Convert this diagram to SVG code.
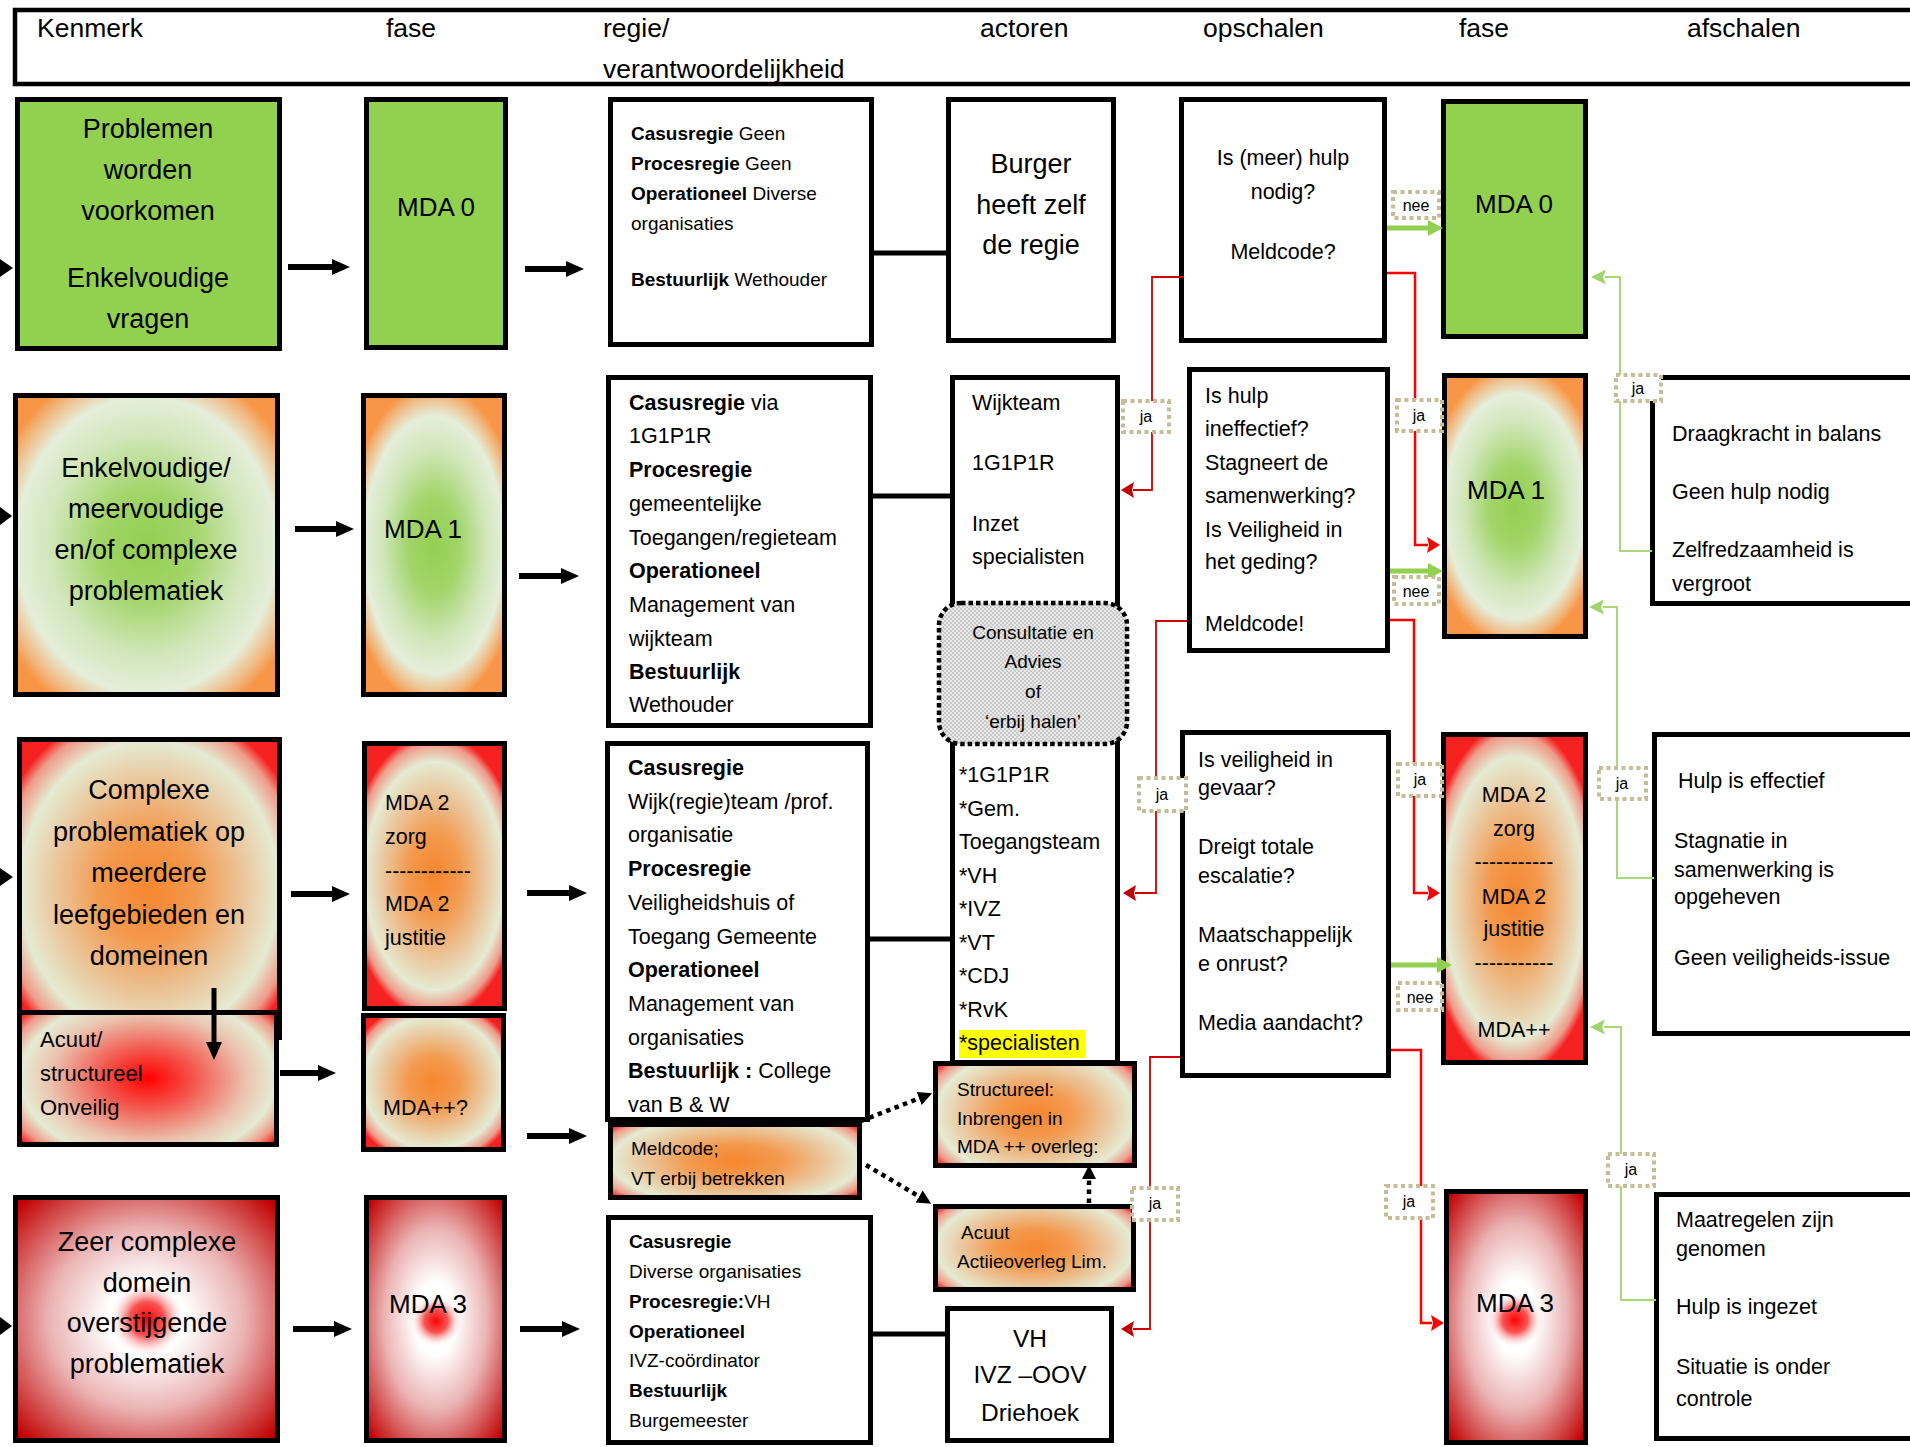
<svg xmlns="http://www.w3.org/2000/svg" width="1910" height="1447" viewBox="0 0 1910 1447">
<style>
.bx{stroke:#000;stroke-width:5}
.w{fill:#fff}
.t{font-family:"Liberation Sans",Arial,sans-serif;fill:#000}
.big{font-size:27px}
.mda{font-size:26px}
.hd{font-size:26.5px}
.m{font-size:21.5px}
.s{font-size:19px}
.c{text-anchor:middle}
.b{font-weight:bold}
.lb{fill:#fff;stroke:#C4BD97;stroke-width:4;stroke-dasharray:4 3.5}
.lt{font-family:"Liberation Sans",Arial,sans-serif;font-size:16px;text-anchor:middle;fill:#000}
.ka{stroke:#000;stroke-width:6;fill:none}
.kl{stroke:#000;stroke-width:5;fill:none}
.rl{stroke:#D00000;stroke-width:1.8;fill:none}
.rr{stroke:#FF0000;stroke-width:2.5;fill:none}
.gn{stroke:#92D050;stroke-width:5;fill:none}
.ga{stroke:#A8D878;stroke-width:2;fill:none}
.dt{stroke:#000;stroke-width:4.5;stroke-dasharray:4.5 4.5;fill:none}
</style>
<defs>
<radialGradient id="gGO" cx="0.5" cy="0.5" r="0.62" gradientTransform="translate(0.5 0.5) scale(1 0.87) translate(-0.5 -0.5)">
<stop offset="0" stop-color="#92D050"/>
<stop offset="0.3" stop-color="#A3D56B"/>
<stop offset="0.6" stop-color="#D2E7BC"/>
<stop offset="0.8" stop-color="#E5EEDA"/>
<stop offset="0.93" stop-color="#F1B77E"/>
<stop offset="1" stop-color="#F79646"/>
</radialGradient>
<radialGradient id="gGOs" cx="0.5" cy="0.5" r="0.62">
<stop offset="0" stop-color="#92D050"/>
<stop offset="0.3" stop-color="#A3D56B"/>
<stop offset="0.6" stop-color="#D2E7BC"/>
<stop offset="0.8" stop-color="#E5EEDA"/>
<stop offset="0.93" stop-color="#F1B77E"/>
<stop offset="1" stop-color="#F79646"/>
</radialGradient>
<radialGradient id="gORt" cx="0.5" cy="0.5" r="0.62" gradientTransform="translate(0.5 0.5) scale(1 0.87) translate(-0.5 -0.5)">
<stop offset="0" stop-color="#F7862F"/>
<stop offset="0.3" stop-color="#F39A4F"/>
<stop offset="0.6" stop-color="#EAC9A0"/>
<stop offset="0.8" stop-color="#E5EBD3"/>
<stop offset="0.93" stop-color="#EF9A88"/>
<stop offset="1" stop-color="#F52020"/>
</radialGradient>
<radialGradient id="gORs" cx="0.5" cy="0.5" r="0.62">
<stop offset="0" stop-color="#F7862F"/>
<stop offset="0.3" stop-color="#F39A4F"/>
<stop offset="0.6" stop-color="#EAC9A0"/>
<stop offset="0.8" stop-color="#E5EBD3"/>
<stop offset="0.93" stop-color="#EF9A88"/>
<stop offset="1" stop-color="#F52020"/>
</radialGradient>
<radialGradient id="gORw" cx="0.5" cy="0.5" r="0.62" gradientTransform="translate(0.5 0.5) scale(1 1.25) translate(-0.5 -0.5)">
<stop offset="0" stop-color="#F7862F"/>
<stop offset="0.3" stop-color="#F39A4F"/>
<stop offset="0.6" stop-color="#EAC9A0"/>
<stop offset="0.8" stop-color="#E5EBD3"/>
<stop offset="0.92" stop-color="#EF9A88"/>
<stop offset="1" stop-color="#F52020"/>
</radialGradient>
<radialGradient id="gRR" cx="0.5" cy="0.5" r="0.62" gradientTransform="translate(0.5 0.5) scale(1 1.25) translate(-0.5 -0.5)">
<stop offset="0" stop-color="#FF0000"/>
<stop offset="0.3" stop-color="#F35A50"/>
<stop offset="0.62" stop-color="#EBC4B0"/>
<stop offset="0.8" stop-color="#E5EBD3"/>
<stop offset="0.92" stop-color="#EF9A88"/>
<stop offset="1" stop-color="#F52020"/>
</radialGradient>
<radialGradient id="gWR" cx="0.5" cy="0.5" r="0.68">
<stop offset="0" stop-color="#FFFFFF"/>
<stop offset="0.22" stop-color="#FFFFFF"/>
<stop offset="0.55" stop-color="#EBB3B3"/>
<stop offset="1" stop-color="#C00000"/>
</radialGradient>
<radialGradient id="gSpot" cx="0.5" cy="0.5" r="0.5">
<stop offset="0" stop-color="#FF0000"/>
<stop offset="0.45" stop-color="#F63535" stop-opacity="0.85"/>
<stop offset="1" stop-color="#FFFFFF" stop-opacity="0"/>
</radialGradient>
<pattern id="hatch" width="4" height="4" patternUnits="userSpaceOnUse">
<rect width="4" height="4" fill="#E8E8E8"/>
<rect width="2" height="2" fill="#C9C9C9"/>
<rect x="2" y="2" width="2" height="2" fill="#C9C9C9"/>
</pattern>
<marker id="ahB" markerUnits="userSpaceOnUse" markerWidth="18" markerHeight="16" viewBox="0 0 18 16" refX="1" refY="8" orient="auto"><path d="M0,0 L18,8 L0,16 z" fill="#000"/></marker>
<marker id="ahD" markerUnits="userSpaceOnUse" markerWidth="14" markerHeight="14" viewBox="0 0 14 14" refX="1" refY="7" orient="auto"><path d="M0,0 L14,7 L0,14 z" fill="#000"/></marker>
<marker id="ahG" markerUnits="userSpaceOnUse" markerWidth="15" markerHeight="16" viewBox="0 0 15 16" refX="1" refY="8" orient="auto"><path d="M0,0 L15,8 L0,16 z" fill="#92D050"/></marker>
<marker id="ahL" markerUnits="userSpaceOnUse" markerWidth="15" markerHeight="15" viewBox="0 0 15 15" refX="1" refY="7.5" orient="auto"><path d="M0,0 L15,7.5 L0,15 L3,7.5 z" fill="#A0D46C"/></marker>
<marker id="ahR" markerUnits="userSpaceOnUse" markerWidth="13" markerHeight="16" viewBox="0 0 13 16" refX="1" refY="8" orient="auto"><path d="M0,0 L13,8 L0,16 L2,8 z" fill="#FF0000"/></marker>
<marker id="ahK" markerUnits="userSpaceOnUse" markerWidth="13" markerHeight="16" viewBox="0 0 13 16" refX="1" refY="8" orient="auto"><path d="M0,0 L13,8 L0,16 L2,8 z" fill="#C00000"/></marker>
</defs>
<rect width="1910" height="1447" fill="#fff"/>

<g id="header">
<rect x="15" y="10" width="1920" height="74" fill="#fff" stroke="#000" stroke-width="4.5"/>
<text class="t hd" x="37" y="37">Kenmerk</text>
<text class="t hd" x="386" y="37">fase</text>
<text class="t hd" x="603" y="37">regie/</text>
<text class="t hd" x="603" y="78">verantwoordelijkheid</text>
<text class="t hd" x="980" y="37">actoren</text>
<text class="t hd" x="1203" y="37">opschalen</text>
<text class="t hd" x="1459" y="37">fase</text>
<text class="t hd" x="1687" y="37">afschalen</text>
</g>

<!-- Row 1 -->
<g id="kenmerk1">
<rect class="bx" x="17.5" y="99.5" width="262" height="249" fill="#92D050"/>
<text class="t big c" x="148" y="138">Problemen</text>
<text class="t big c" x="148" y="179">worden</text>
<text class="t big c" x="148" y="220">voorkomen</text>
<text class="t big c" x="148" y="287">Enkelvoudige</text>
<text class="t big c" x="148" y="328">vragen</text>
</g>
<g id="fase-mda0">
<rect class="bx" x="366.5" y="99.5" width="139" height="248" fill="#92D050"/>
<text class="t mda c" x="436" y="216">MDA 0</text>
</g>
<g id="regie1">
<rect class="bx w" x="610.5" y="99.5" width="261" height="245"/>
<text class="t s" x="631" y="140"><tspan class="b">Casusregie</tspan> Geen</text>
<text class="t s" x="631" y="170"><tspan class="b">Procesregie</tspan> Geen</text>
<text class="t s" x="631" y="200"><tspan class="b">Operationeel</tspan> Diverse</text>
<text class="t s" x="631" y="230">organisaties</text>
<text class="t s" x="631" y="286"><tspan class="b">Bestuurlijk</tspan> Wethouder</text>
</g>
<g id="actor1">
<rect class="bx w" x="948.5" y="99.5" width="165" height="241"/>
<text class="t big c" x="1031" y="173">Burger</text>
<text class="t big c" x="1031" y="214">heeft zelf</text>
<text class="t big c" x="1031" y="254">de regie</text>
</g>
<g id="opschalen1">
<rect class="bx w" x="1181.5" y="99.5" width="203" height="241"/>
<text class="t m c" x="1283" y="165">Is (meer) hulp</text>
<text class="t m c" x="1283" y="199">nodig?</text>
<text class="t m c" x="1283" y="259">Meldcode?</text>
</g>
<g id="fase-r-mda0">
<rect class="bx" x="1443.5" y="101.5" width="142" height="235" fill="#92D050"/>
<text class="t mda c" x="1514" y="213">MDA 0</text>
</g>

<!-- Row 2 -->
<g id="kenmerk2">
<rect class="bx" x="15.5" y="395.5" width="262" height="299" fill="url(#gGOs)"/>
<text class="t big c" x="146" y="477">Enkelvoudige/</text>
<text class="t big c" x="146" y="518">meervoudige</text>
<text class="t big c" x="146" y="559">en/of complexe</text>
<text class="t big c" x="146" y="600">problematiek</text>
</g>
<g id="fase-mda1">
<rect class="bx" x="363.5" y="395.5" width="141" height="299" fill="url(#gGO)"/>
<text class="t mda" x="384" y="538">MDA 1</text>
</g>
<g id="regie2">
<rect class="bx w" x="608.5" y="377.5" width="262" height="348"/>
<text class="t m" x="629" y="410"><tspan class="b">Casusregie</tspan> via</text>
<text class="t m" x="629" y="443">1G1P1R</text>
<text class="t m b" x="629" y="477">Procesregie</text>
<text class="t m" x="629" y="511">gemeentelijke</text>
<text class="t m" x="629" y="545">Toegangen/regieteam</text>
<text class="t m b" x="629" y="578">Operationeel</text>
<text class="t m" x="629" y="612">Management van</text>
<text class="t m" x="629" y="646">wijkteam</text>
<text class="t m b" x="629" y="679">Bestuurlijk</text>
<text class="t m" x="629" y="712">Wethouder</text>
</g>
<g id="actor2">
<rect class="bx w" x="952.5" y="377.5" width="165" height="685"/>
<text class="t m" x="972" y="410">Wijkteam</text>
<text class="t m" x="972" y="470">1G1P1R</text>
<text class="t m" x="972" y="531">Inzet</text>
<text class="t m" x="972" y="564">specialisten</text>
<rect x="959" y="1030" width="126" height="28" fill="#FFFF00"/>
<text class="t m" x="959" y="782">*1G1P1R</text>
<text class="t m" x="959" y="816">*Gem.</text>
<text class="t m" x="959" y="849">Toegangsteam</text>
<text class="t m" x="959" y="883">*VH</text>
<text class="t m" x="959" y="916">*IVZ</text>
<text class="t m" x="959" y="950">*VT</text>
<text class="t m" x="959" y="983">*CDJ</text>
<text class="t m" x="959" y="1017">*RvK</text>
<text class="t m" x="959" y="1050">*specialisten</text>
</g>
<g id="consultatie">
<rect x="939" y="603" width="188" height="141" rx="22" fill="url(#hatch)" stroke="#000" stroke-width="4.5" stroke-dasharray="4.5 3"/>
<text class="t s c" x="1033" y="639">Consultatie en</text>
<text class="t s c" x="1033" y="668">Advies</text>
<text class="t s c" x="1033" y="698">of</text>
<text class="t s c" x="1033" y="728">‘erbij halen’</text>
</g>
<g id="opschalen2">
<rect class="bx w" x="1189.5" y="369.5" width="198" height="281"/>
<text class="t m" x="1205" y="403">Is hulp</text>
<text class="t m" x="1205" y="436">ineffectief?</text>
<text class="t m" x="1205" y="470">Stagneert de</text>
<text class="t m" x="1205" y="503">samenwerking?</text>
<text class="t m" x="1205" y="537">Is Veiligheid in</text>
<text class="t m" x="1205" y="569">het geding?</text>
<text class="t m" x="1205" y="631">Meldcode!</text>
</g>
<g id="fase-r-mda1">
<rect class="bx" x="1444.5" y="375.5" width="141" height="261" fill="url(#gGO)"/>
<text class="t mda" x="1467" y="499">MDA 1</text>
</g>
<g id="afschalen1">
<rect class="bx w" x="1652.5" y="377.5" width="300" height="226"/>
<text class="t m" x="1672" y="441">Draagkracht in balans</text>
<text class="t m" x="1672" y="499">Geen hulp nodig</text>
<text class="t m" x="1672" y="557">Zelfredzaamheid is</text>
<text class="t m" x="1672" y="591">vergroot</text>
</g>

<!-- Row 3 -->
<g id="kenmerk3">
<rect class="bx" x="19.5" y="739.5" width="260" height="298" fill="url(#gORs)"/>
<text class="t big c" x="149" y="799">Complexe</text>
<text class="t big c" x="149" y="841">problematiek op</text>
<text class="t big c" x="149" y="882">meerdere</text>
<text class="t big c" x="149" y="924">leefgebieden en</text>
<text class="t big c" x="149" y="965">domeinen</text>
</g>
<g id="kenmerk3b">
<rect class="bx" x="19.5" y="1012.5" width="257" height="132" fill="url(#gRR)"/>
<text class="t" font-size="22" x="40" y="1047">Acuut/</text>
<text class="t" font-size="22" x="40" y="1081">structureel</text>
<text class="t" font-size="22" x="40" y="1115">Onveilig</text>
</g>
<g id="fase-mda2">
<rect class="bx" x="364.5" y="743.5" width="140" height="265" fill="url(#gORt)"/>
<text class="t m" x="385" y="810">MDA 2</text>
<text class="t m" x="385" y="844">zorg</text>
<text class="t m" x="385" y="878">------------</text>
<text class="t m" x="385" y="911">MDA  2</text>
<text class="t m" x="385" y="945">justitie</text>
</g>
<g id="fase-mdapp">
<rect class="bx" x="363.5" y="1015.5" width="140" height="134" fill="url(#gORs)"/>
<text class="t m" x="383" y="1115">MDA++?</text>
</g>
<g id="regie3">
<rect class="bx w" x="607.5" y="743.5" width="260" height="376"/>
<text class="t m b" x="628" y="775">Casusregie</text>
<text class="t m" x="628" y="809">Wijk(regie)team /prof.</text>
<text class="t m" x="628" y="842">organisatie</text>
<text class="t m b" x="628" y="876">Procesregie</text>
<text class="t m" x="628" y="910">Veiligheidshuis of</text>
<text class="t m" x="628" y="944">Toegang Gemeente</text>
<text class="t m b" x="628" y="977">Operationeel</text>
<text class="t m" x="628" y="1011">Management van</text>
<text class="t m" x="628" y="1045">organisaties</text>
<text class="t m" x="628" y="1078"><tspan class="b">Bestuurlijk :</tspan> College</text>
<text class="t m" x="628" y="1112">van B &amp; W</text>
</g>
<g id="meldcode">
<rect class="bx" x="610.5" y="1124.5" width="249" height="73" fill="url(#gORw)"/>
<text class="t s" x="631" y="1155">Meldcode;</text>
<text class="t s" x="631" y="1185">VT erbij betrekken</text>
</g>
<g id="structureel">
<rect class="bx" x="935.5" y="1063.5" width="199" height="102" fill="url(#gORw)"/>
<text class="t s" x="957" y="1096">Structureel:</text>
<text class="t s" x="957" y="1125">Inbrengen  in</text>
<text class="t s" x="957" y="1153">MDA ++ overleg:</text>
</g>
<g id="acuut-actieoverleg">
<rect class="bx" x="935.5" y="1206.5" width="198" height="83" fill="url(#gORw)"/>
<text class="t s" x="961" y="1239">Acuut</text>
<text class="t s" x="957" y="1268">Actiieoverleg Lim.</text>
</g>
<g id="opschalen3">
<rect class="bx w" x="1182.5" y="732.5" width="206" height="343"/>
<text class="t m" x="1198" y="767">Is veiligheid in</text>
<text class="t m" x="1198" y="795">gevaar?</text>
<text class="t m" x="1198" y="854">Dreigt totale</text>
<text class="t m" x="1198" y="883">escalatie?</text>
<text class="t m" x="1198" y="942">Maatschappelijk</text>
<text class="t m" x="1198" y="971">e onrust?</text>
<text class="t m" x="1198" y="1030">Media aandacht?</text>
</g>
<g id="fase-r-mda2">
<rect class="bx" x="1443.5" y="734.5" width="142" height="328" fill="url(#gORt)"/>
<text class="t m c" x="1514" y="802">MDA 2</text>
<text class="t m c" x="1514" y="836">zorg</text>
<text class="t m c" x="1514" y="869">-----------</text>
<text class="t m c" x="1514" y="904">MDA 2</text>
<text class="t m c" x="1514" y="936">justitie</text>
<text class="t m c" x="1514" y="970">-----------</text>
<text class="t m c" x="1514" y="1037">MDA++</text>
</g>
<g id="afschalen2">
<rect class="bx w" x="1654.5" y="734.5" width="300" height="299"/>
<text class="t m" x="1678" y="788">Hulp is effectief</text>
<text class="t m" x="1674" y="848">Stagnatie in</text>
<text class="t m" x="1674" y="877">samenwerking is</text>
<text class="t m" x="1674" y="904">opgeheven</text>
<text class="t m" x="1674" y="965">Geen veiligheids-issue</text>
</g>

<!-- Row 4 -->
<g id="kenmerk4">
<rect class="bx" x="15.5" y="1197.5" width="262" height="243" fill="url(#gWR)"/>
<circle cx="147" cy="1319" r="38" fill="url(#gSpot)"/>
<text class="t big c" x="147" y="1251">Zeer complexe</text>
<text class="t big c" x="147" y="1292">domein</text>
<text class="t big c" x="147" y="1332">overstijgende</text>
<text class="t big c" x="147" y="1373">problematiek</text>
</g>
<g id="fase-mda3">
<rect class="bx" x="366.5" y="1197.5" width="138" height="243" fill="url(#gWR)"/>
<circle cx="436" cy="1321" r="26" fill="url(#gSpot)"/>
<text class="t mda c" x="428" y="1313">MDA 3</text>
</g>
<g id="regie4">
<rect class="bx w" x="608.5" y="1217.5" width="262" height="225"/>
<text class="t s b" x="629" y="1248">Casusregie</text>
<text class="t s" x="629" y="1278">Diverse organisaties</text>
<text class="t s" x="629" y="1308"><tspan class="b">Procesregie:</tspan>VH</text>
<text class="t s b" x="629" y="1338">Operationeel</text>
<text class="t s" x="629" y="1367"> IVZ-coördinator</text>
<text class="t s b" x="629" y="1397">Bestuurlijk</text>
<text class="t s" x="629" y="1427">Burgemeester</text>
</g>
<g id="actor4">
<rect class="bx w" x="947.5" y="1308.5" width="164" height="132"/>
<text class="t c" font-size="24.5" x="1030" y="1347">VH</text>
<text class="t c" font-size="24.5" x="1030" y="1383">IVZ –OOV</text>
<text class="t c" font-size="24.5" x="1030" y="1421">Driehoek</text>
</g>
<g id="fase-r-mda3">
<rect class="bx" x="1446.5" y="1191.5" width="139" height="251" fill="url(#gWR)"/>
<circle cx="1515" cy="1320" r="28" fill="url(#gSpot)"/>
<text class="t mda c" x="1515" y="1312">MDA 3</text>
</g>
<g id="afschalen3">
<rect class="bx w" x="1656.5" y="1194.5" width="300" height="244"/>
<text class="t m" x="1676" y="1227">Maatregelen zijn</text>
<text class="t m" x="1676" y="1256">genomen</text>
<text class="t m" x="1676" y="1314">Hulp is ingezet</text>
<text class="t m" x="1676" y="1374">Situatie is onder</text>
<text class="t m" x="1676" y="1406">controle</text>
</g>

<g id="connectors">
<!-- left edge arrowheads -->
<path d="M0,259 L13,268 L0,277 z" fill="#000"/>
<path d="M0,507 L12,516 L0,525 z" fill="#000"/>
<path d="M0,868 L13,877 L0,886 z" fill="#000"/>
<path d="M0,1317 L12,1326 L0,1335 z" fill="#000"/>
<!-- black flow arrows -->
<path class="ka" d="M288,267 H333" marker-end="url(#ahB)"/>
<path class="ka" d="M525,269 H567" marker-end="url(#ahB)"/>
<path class="ka" d="M295,529 H337" marker-end="url(#ahB)"/>
<path class="ka" d="M519,576 H562" marker-end="url(#ahB)"/>
<path class="ka" d="M291,894 H333" marker-end="url(#ahB)"/>
<path class="ka" d="M527,893 H570" marker-end="url(#ahB)"/>
<path class="ka" d="M280,1073 H319" marker-end="url(#ahB)"/>
<path class="ka" d="M527,1136 H570" marker-end="url(#ahB)"/>
<path class="ka" d="M293,1329 H335" marker-end="url(#ahB)"/>
<path class="ka" d="M520,1329 H563" marker-end="url(#ahB)"/>
<path class="kl" d="M214,988 V1043" marker-end="url(#ahB)"/>
<!-- regie to actors -->
<path class="kl" d="M872,253 H948"/>
<path class="kl" d="M871,496 H952"/>
<path class="kl" d="M868,939 H952"/>
<path class="kl" d="M871,1334 H947"/>
<!-- dotted arrows -->
<path class="dt" d="M861,1121 L920,1098" marker-end="url(#ahD)"/>
<path class="dt" d="M866,1165 L920,1197" marker-end="url(#ahD)"/>
<path class="dt" d="M1089,1203 V1178" marker-end="url(#ahD)"/>
<!-- red escalation lines -->
<path class="rl" d="M1184,277 H1152 V490 H1133" marker-end="url(#ahK)"/>
<path class="rr" d="M1387,273 H1415 V545 H1428" marker-end="url(#ahR)"/>
<path class="rl" d="M1187,621 H1156 V893 H1135" marker-end="url(#ahK)"/>
<path class="rr" d="M1390,620 H1414 V893 H1428" marker-end="url(#ahR)"/>
<path class="rl" d="M1180,1057 H1150 V1329 H1133" marker-end="url(#ahK)"/>
<path class="rr" d="M1391,1050 H1421 V1323 H1432" marker-end="url(#ahR)"/>
<!-- green nee arrows -->
<path class="gn" d="M1387,228 H1429" marker-end="url(#ahG)"/>
<path class="gn" d="M1390,571 H1429" marker-end="url(#ahG)"/>
<path class="gn" d="M1391,965 H1438" marker-end="url(#ahG)"/>
<!-- green afschalen lines -->
<path class="ga" d="M1652,551 H1620 V277 H1605" marker-end="url(#ahL)"/>
<path class="ga" d="M1654,878 H1617 V607 H1603" marker-end="url(#ahL)"/>
<path class="ga" d="M1656,1300 H1621 V1027 H1604" marker-end="url(#ahL)"/>
<!-- labels -->
<rect class="lb" x="1393" y="192" width="46" height="26"/><text class="lt" x="1416" y="211">nee</text>
<rect class="lb" x="1123" y="401" width="46" height="31"/><text class="lt" x="1146" y="422">ja</text>
<rect class="lb" x="1397" y="400" width="45" height="31"/><text class="lt" x="1419" y="421">ja</text>
<rect class="lb" x="1616" y="375" width="45" height="26"/><text class="lt" x="1638" y="394">ja</text>
<rect class="lb" x="1394" y="577" width="45" height="27"/><text class="lt" x="1416" y="597">nee</text>
<rect class="lb" x="1139" y="778" width="47" height="33"/><text class="lt" x="1162" y="800">ja</text>
<rect class="lb" x="1398" y="764" width="44" height="32"/><text class="lt" x="1420" y="785">ja</text>
<rect class="lb" x="1599" y="768" width="47" height="31"/><text class="lt" x="1622" y="789">ja</text>
<rect class="lb" x="1398" y="983" width="44" height="27"/><text class="lt" x="1420" y="1003">nee</text>
<rect class="lb" x="1132" y="1188" width="46" height="32"/><text class="lt" x="1155" y="1209">ja</text>
<rect class="lb" x="1386" y="1186" width="47" height="32"/><text class="lt" x="1409" y="1207">ja</text>
<rect class="lb" x="1608" y="1154" width="46" height="32"/><text class="lt" x="1631" y="1175">ja</text>
</g>
</svg>
